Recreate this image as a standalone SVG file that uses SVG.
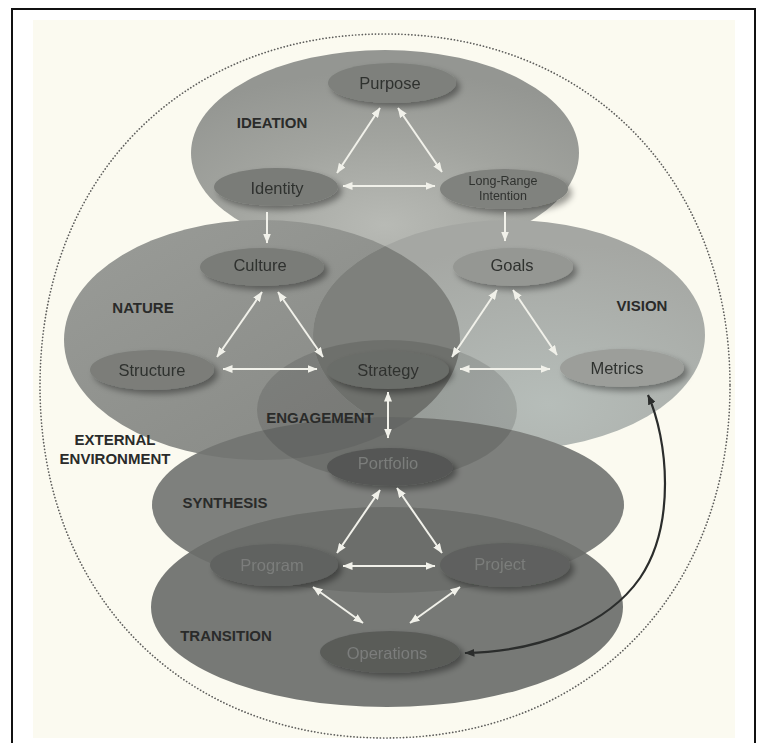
<svg xmlns="http://www.w3.org/2000/svg" width="761" height="743" viewBox="0 0 761 743">
<defs>
<style>
.lbl{font-family:"Liberation Sans",Arial,sans-serif;font-weight:bold;font-size:15px;fill:#2a2b2a;text-anchor:middle}
.nt{font-family:"Liberation Sans",Arial,sans-serif;font-size:16.5px;fill:#2f312f;text-anchor:middle}
.nts{font-family:"Liberation Sans",Arial,sans-serif;font-size:12.5px;fill:#2f312f;text-anchor:middle}
.ntd{font-family:"Liberation Sans",Arial,sans-serif;font-size:16.5px;fill:#7b7d7b;text-anchor:middle}
.ar{stroke:#f1f1ea;stroke-width:2;fill:none;marker-start:url(#ah);marker-end:url(#ah)}
.ar1{stroke:#f1f1ea;stroke-width:2;fill:none;marker-end:url(#ah)}
.fb{stroke:#2b2d2c;stroke-width:2.2;fill:none;marker-start:url(#ahd);marker-end:url(#ahd)}
.node{filter:url(#sh)}
</style>
<marker id="ah" viewBox="0 0 10 8" refX="9.5" refY="4" markerWidth="10" markerHeight="8" markerUnits="userSpaceOnUse" orient="auto-start-reverse"><path d="M0,0 L10,4 L0,8 z" fill="#f1f1ea"/></marker>
<marker id="ahd" viewBox="0 0 10 8" refX="9.5" refY="4" markerWidth="10" markerHeight="8" markerUnits="userSpaceOnUse" orient="auto-start-reverse"><path d="M0,0 L10,4 L0,8 z" fill="#2b2d2c"/></marker>
<filter id="sh" x="-30%" y="-50%" width="160%" height="200%"><feDropShadow dx="4" dy="4" stdDeviation="3" flood-color="#000" flood-opacity="0.38"/></filter>
<radialGradient id="gI" cx="0.5" cy="0.85" r="0.75"><stop offset="0" stop-color="#b8bab5"/><stop offset="0.55" stop-color="#a2a49f"/><stop offset="1" stop-color="#949692"/></radialGradient>
<linearGradient id="gN" x1="0" y1="0" x2="1" y2="1"><stop offset="0" stop-color="#9a9c98"/><stop offset="1" stop-color="#858783"/></linearGradient>
<radialGradient id="gV" cx="0.6" cy="0.8" r="0.7"><stop offset="0" stop-color="#b6bdb9"/><stop offset="1" stop-color="#a5a7a3"/></radialGradient>
<clipPath id="cN"><ellipse cx="262" cy="340" rx="198" ry="120"/></clipPath>
<clipPath id="cS"><ellipse cx="388" cy="505" rx="236" ry="88"/></clipPath>
</defs>
<rect x="0" y="0" width="761" height="743" fill="#ffffff"/>
<rect x="33" y="20" width="702" height="718" fill="#fbfaf0"/>
<path d="M12,745 V9 H755 V745" fill="none" stroke="#111" stroke-width="2"/>
<path id="environment" d="M730,386 C730,593.7 588.6,738 385,738 C181.4,738 40,593.7 40,386 C40,178.3 181.4,34 385,34 C588.6,34 730,178.3 730,386 Z" fill="none" stroke="#5e5e5c" stroke-width="1.7" stroke-dasharray="0.1 3.2" stroke-linecap="round"/>

<g id="region-ideation"><ellipse cx="385" cy="153" rx="194" ry="103" fill="url(#gI)"/></g>
<g id="region-nature"><ellipse cx="262" cy="340" rx="198" ry="120" fill="url(#gN)"/></g>
<g id="region-vision"><ellipse cx="509" cy="335" rx="196" ry="115" fill="url(#gV)"/>
<ellipse cx="509" cy="335" rx="196" ry="115" fill="#7e807c" clip-path="url(#cN)"/></g>
<g id="region-synthesis"><ellipse cx="388" cy="505" rx="236" ry="88" fill="#7e807d"/>
<ellipse cx="262" cy="340" rx="198" ry="120" fill="#000" fill-opacity="0.08" clip-path="url(#cS)"/></g>
<g id="region-transition"><ellipse cx="387" cy="607" rx="236" ry="100" fill="#777976"/>
<ellipse cx="387" cy="607" rx="236" ry="100" fill="#6c6e6b" clip-path="url(#cS)"/></g>
<g id="region-engagement"><ellipse cx="387" cy="410" rx="130" ry="70" fill="#000" fill-opacity="0.12"/></g>

<g id="labels">
<text class="lbl" x="272" y="127.5">IDEATION</text>
<text class="lbl" x="143" y="312.5">NATURE</text>
<text class="lbl" x="642" y="310.5">VISION</text>
<text class="lbl" x="320" y="422.5">ENGAGEMENT</text>
<text class="lbl" x="115" y="445">EXTERNAL</text>
<text class="lbl" x="115" y="464">ENVIRONMENT</text>
<text class="lbl" x="225" y="507.5">SYNTHESIS</text>
<text class="lbl" x="226" y="640.5">TRANSITION</text>
</g>

<g id="purpose" class="node"><ellipse cx="392" cy="83" rx="64" ry="20" fill="#7e807c"/><text class="nt" x="390" y="89">Purpose</text></g>
<g id="identity" class="node"><ellipse cx="276" cy="187" rx="62" ry="19" fill="#7a7c78"/><text class="nt" x="277" y="194">Identity</text></g>
<g id="long-range-intention" class="node"><ellipse cx="504" cy="189" rx="64" ry="20" fill="#80827e"/><text class="nts" x="503" y="185">Long-Range</text><text class="nts" x="503" y="199.5">Intention</text></g>
<g id="culture" class="node"><ellipse cx="262" cy="267" rx="62" ry="19" fill="#7a7c78"/><text class="nt" x="260" y="271">Culture</text></g>
<g id="goals" class="node"><ellipse cx="513" cy="267" rx="60" ry="19" fill="#959793"/><text class="nt" x="512" y="271">Goals</text></g>
<g id="structure" class="node"><ellipse cx="152" cy="370" rx="62" ry="20" fill="#7b7d79"/><text class="nt" x="152" y="376">Structure</text></g>
<g id="strategy" class="node"><ellipse cx="388" cy="370" rx="61" ry="19" fill="#6b6d69"/><text class="nt" x="388" y="376">Strategy</text></g>
<g id="metrics" class="node"><ellipse cx="622" cy="368" rx="62" ry="19" fill="#9c9e9a"/><text class="nt" x="617" y="374">Metrics</text></g>
<g id="portfolio" class="node"><ellipse cx="390" cy="467" rx="63" ry="19" fill="#555755"/><text class="ntd" x="388" y="469">Portfolio</text></g>
<g id="program" class="node"><ellipse cx="274" cy="565" rx="64" ry="21" fill="#606260"/><text class="ntd" x="272" y="571">Program</text></g>
<g id="project" class="node"><ellipse cx="505" cy="565" rx="65" ry="22" fill="#5f615e"/><text class="ntd" x="500" y="570">Project</text></g>
<g id="operations" class="node"><ellipse cx="390" cy="652" rx="70" ry="21" fill="#5a5c59"/><text class="ntd" x="387" y="659">Operations</text></g>

<g id="connectors">
<line class="ar" x1="380" y1="108" x2="337" y2="173"/>
<line class="ar" x1="398" y1="108" x2="442" y2="172"/>
<line class="ar" x1="343" y1="186" x2="435" y2="186"/>
<line class="ar1" x1="267" y1="212" x2="267" y2="243"/>
<line class="ar1" x1="505" y1="212" x2="505" y2="241"/>
<line class="ar" x1="262" y1="292" x2="217" y2="357"/>
<line class="ar" x1="278" y1="292" x2="323" y2="357"/>
<line class="ar" x1="223" y1="369" x2="317" y2="369"/>
<line class="ar" x1="497" y1="290" x2="452" y2="357"/>
<line class="ar" x1="513" y1="290" x2="557" y2="355"/>
<line class="ar" x1="460" y1="369" x2="550" y2="369"/>
<line class="ar" x1="388" y1="392" x2="388" y2="438"/>
<line class="ar" x1="380" y1="490" x2="337" y2="553"/>
<line class="ar" x1="397" y1="488" x2="442" y2="553"/>
<line class="ar" x1="343" y1="566" x2="435" y2="566"/>
<line class="ar" x1="313" y1="587" x2="363" y2="623"/>
<line class="ar" x1="460" y1="587" x2="410" y2="623"/>
<path class="fb" d="M648,395 C668,440 676,525 640,578 C608,624 540,652 465,653"/>
</g>
</svg>
